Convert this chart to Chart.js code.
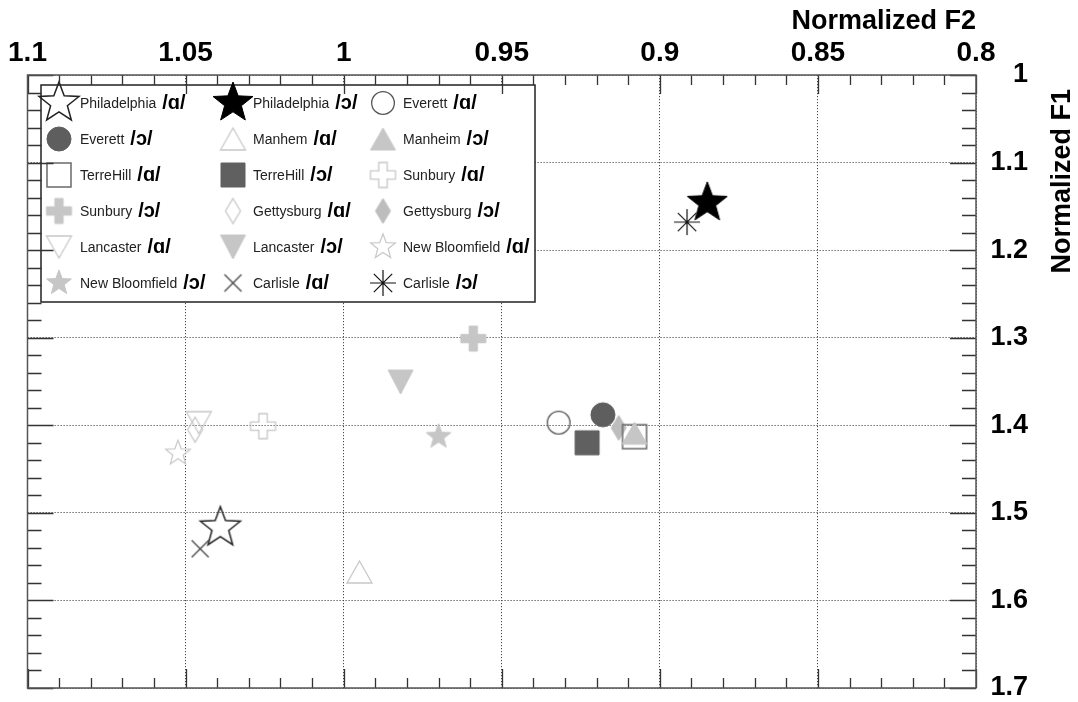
<!doctype html>
<html lang="en">
  <head>
    <meta charset="utf-8">
    <title>Normalized F1 vs Normalized F2</title>
    <style>
      body { margin: 0; background: #fff; }
      .chartBox { width: 1078px; height: 702px; }
    </style>
  </head>
  <body>
    <div class="chartBox">
      <canvas id="myChart" width="1078" height="702"></canvas>
    </div>
    <script src="https://cdn.jsdelivr.net/npm/chart.js"></script>
    <script>
      // data
      const speakers = ['Philadelphia', 'Philadelphia', 'Everett', 'Everett', 'Manhem', 'Manheim',
        'TerreHill', 'TerreHill', 'Sunbury', 'Sunbury', 'Gettysburg', 'Gettysburg',
        'Lancaster', 'Lancaster', 'New Bloomfield', 'New Bloomfield', 'Carlisle', 'Carlisle'];
      const vowels = ['/ɑ/', '/ɔ/', '/ɑ/', '/ɔ/', '/ɑ/', '/ɔ/', '/ɑ/', '/ɔ/', '/ɑ/', '/ɔ/',
        '/ɑ/', '/ɔ/', '/ɑ/', '/ɔ/', '/ɑ/', '/ɔ/', '/ɑ/', '/ɔ/'];
      const f2Values = [1.039, 0.885, 0.932, 0.918, 0.995, 0.908, 0.908, 0.923, 1.0255,
        0.959, 1.047, 0.913, 1.0458, 0.982, 1.0524, 0.970, 1.0454, 0.8914];
      const f1Values = [1.517, 1.146, 1.397, 1.388, 1.5675, 1.409, 1.413, 1.420, 1.401,
        1.301, 1.405, 1.403, 1.397, 1.3506, 1.432, 1.413, 1.541, 1.168];

      const xTicks = [1.1, 1.05, 1, 0.95, 0.9, 0.85, 0.8];
      const xTickLabels = ['1.1', '1.05', '1', '0.95', '0.9', '0.85', '0.8'];
      const yTicks = [1, 1.1, 1.2, 1.3, 1.4, 1.5, 1.6, 1.7];
      const yTickLabels = ['1', '1.1', '1.2', '1.3', '1.4', '1.5', '1.6', '1.7'];
      const xTitle = 'Normalized F2';
      const yTitle = 'Normalized F1';

      const FONT = '"Liberation Sans", Arial, "DejaVu Sans", sans-serif';

      // marker looks: shape, width, height, fill, stroke, line width
      const markerSpecs = [
        ['star', 42, 42, null, '#222', 1.5],
        ['star', 42, 42, '#000', '#000', 1],
        ['circle', 24, 24, null, '#555', 1.3],
        ['circle', 24, 24, '#5e5e5e', '#5e5e5e', 1],
        ['triangle', 25, 22, null, '#c8c8c8', 1.3],
        ['triangle', 25, 22, '#c6c6c6', '#c6c6c6', 1],
        ['square', 24, 24, null, '#6a6a6a', 1.5],
        ['square', 24, 24, '#606060', '#606060', 1],
        ['plus', 25, 25, null, '#c8c8c8', 1.3],
        ['plus', 25, 25, '#c6c6c6', '#c6c6c6', 1],
        ['diamond', 15, 25, null, '#c4c4c4', 1.2],
        ['diamond', 15, 25, '#bdbdbd', '#bdbdbd', 1],
        ['triangleDown', 25, 22, null, '#c8c8c8', 1.3],
        ['triangleDown', 25, 24, '#c6c6c6', '#c6c6c6', 1],
        ['star', 26, 26, null, '#c8c8c8', 1.2],
        ['star', 26, 26, '#c6c6c6', '#c6c6c6', 1],
        ['x', 17, 17, null, '#444', 1.3],
        ['asterisk', 26, 26, null, '#111', 1.2]
      ];

      function makeMarker(spec) {
        const [shape, w, h, fill, stroke, lw] = spec;
        const pad = 3;
        const c = document.createElement('canvas');
        c.width = Math.ceil(w + 2 * pad);
        c.height = Math.ceil(h + 2 * pad);
        const g = c.getContext('2d');
        g.translate(c.width / 2, c.height / 2);
        g.lineWidth = lw;
        g.strokeStyle = stroke;
        g.fillStyle = fill || 'transparent';
        g.beginPath();
        const hw = w / 2, hh = h / 2;
        if (shape === 'star') {
          const R = hw, r = R * 0.42;
          for (let k = 0; k < 10; k++) {
            const a = -Math.PI / 2 + k * Math.PI / 5;
            const rr = k % 2 ? r : R;
            const px = Math.cos(a) * rr, py = Math.sin(a) * rr;
            k ? g.lineTo(px, py) : g.moveTo(px, py);
          }
          g.closePath();
        } else if (shape === 'circle') {
          g.arc(0, 0, hw - (fill ? 0 : lw / 2), 0, Math.PI * 2);
        } else if (shape === 'triangle') {
          g.moveTo(0, -hh); g.lineTo(hw, hh); g.lineTo(-hw, hh); g.closePath();
        } else if (shape === 'triangleDown') {
          g.moveTo(0, hh); g.lineTo(hw, -hh); g.lineTo(-hw, -hh); g.closePath();
        } else if (shape === 'square') {
          g.rect(-hw, -hh, w, h);
        } else if (shape === 'plus') {
          const t = w / 6;
          const pts = [[-t, -hh], [t, -hh], [t, -t], [hw, -t], [hw, t], [t, t], [t, hh],
            [-t, hh], [-t, t], [-hw, t], [-hw, -t], [-t, -t]];
          pts.forEach((p, k) => k ? g.lineTo(p[0], p[1]) : g.moveTo(p[0], p[1]));
          g.closePath();
        } else if (shape === 'diamond') {
          g.moveTo(0, -hh); g.lineTo(hw, 0); g.lineTo(0, hh); g.lineTo(-hw, 0); g.closePath();
        } else if (shape === 'x') {
          g.moveTo(-hw, -hh); g.lineTo(hw, hh); g.moveTo(hw, -hh); g.lineTo(-hw, hh);
        } else if (shape === 'asterisk') {
          const d = hw * Math.SQRT1_2;
          g.moveTo(-hw, 0); g.lineTo(hw, 0); g.moveTo(0, -hh); g.lineTo(0, hh);
          g.moveTo(-d, -d); g.lineTo(d, d); g.moveTo(d, -d); g.lineTo(-d, d);
        }
        if (fill) g.fill();
        g.stroke();
        return c;
      }

      const markers = markerSpecs.map(makeMarker);

      function tickLabel(values, labels, v) {
        const i = values.findIndex(t => Math.abs(t - v) < 1e-6);
        return i < 0 ? '' : labels[i];
      }

      // legend box, frame, inner ticks, axis titles
      const framePlugin = {
        id: 'rootFrame',
        beforeDatasetsDraw(chart) {
          const ctx = chart.ctx;
          ctx.save();
          ctx.fillStyle = '#fff';
          ctx.fillRect(41, 85, 494, 217);
          ctx.strokeStyle = '#222';
          ctx.lineWidth = 1.5;
          ctx.strokeRect(41, 85, 494, 217);
          const markX = [59, 233, 383];
          const textX = [80, 253, 403];
          speakers.forEach((name, i) => {
            const col = i % 3, row = Math.floor(i / 3);
            const yy = 103 + row * 36;
            const m = markers[i];
            ctx.drawImage(m, markX[col] - m.width / 2, yy - m.height / 2);
            ctx.fillStyle = '#222';
            ctx.textBaseline = 'middle';
            ctx.textAlign = 'left';
            ctx.font = '14px ' + FONT;
            ctx.fillText(name, textX[col], yy + 1);
            const w = ctx.measureText(name).width;
            ctx.fillStyle = '#000';
            ctx.font = 'bold 20px ' + FONT;
            ctx.fillText(vowels[i], textX[col] + w + 6, yy);
          });
          ctx.restore();
        },
        afterDraw(chart) {
          const {ctx, chartArea: a, scales: {x, y}} = chart;
          ctx.save();
          ctx.strokeStyle = '#333';
          ctx.lineWidth = 1.3;
          ctx.beginPath();
          for (let k = 0; k <= 30; k++) {
            const px = Math.round(x.getPixelForValue(0.8 + k * 0.01)) + 0.5;
            const len = k % 5 === 0 ? 19 : 10;
            ctx.moveTo(px, a.top); ctx.lineTo(px, a.top + len);
            ctx.moveTo(px, a.bottom); ctx.lineTo(px, a.bottom - len);
          }
          for (let k = 0; k <= 35; k++) {
            const py = Math.round(y.getPixelForValue(1 + k * 0.02)) + 0.5;
            const len = k % 5 === 0 ? 26 : 14;
            ctx.moveTo(a.left, py); ctx.lineTo(a.left + len, py);
            ctx.moveTo(a.right, py); ctx.lineTo(a.right - len, py);
          }
          ctx.stroke();
          ctx.strokeStyle = '#555';
          ctx.lineWidth = 1.5;
          ctx.strokeRect(a.left, a.top, a.right - a.left, a.bottom - a.top);

          ctx.fillStyle = '#000';
          ctx.font = 'bold 27px ' + FONT;
          ctx.textBaseline = 'middle';
          ctx.textAlign = 'right';
          ctx.fillText(xTitle, a.right, 22);
          // rotated y title, reading bottom to top, ending at the top
          ctx.translate(1063, 89);
          ctx.rotate(-Math.PI / 2);
          ctx.fillText(yTitle, 0, 0);
          ctx.restore();
        }
      };

      const data = {
        datasets: speakers.map((name, i) => ({
          label: name + ' ' + vowels[i],
          data: [{x: f2Values[i], y: f1Values[i]}],
          pointStyle: markers[i],
          pointRadius: 10,
          showLine: false
        }))
      };

      const config = {
        type: 'scatter',
        data,
        options: {
          responsive: false,
          animation: false,
          events: [],
          layout: { padding: { left: 27.5, top: 0, right: 50, bottom: 14 } },
          plugins: {
            legend: { display: false },
            tooltip: { enabled: false }
          },
          scales: {
            x: {
              type: 'linear',
              position: 'top',
              reverse: true,
              min: 0.8,
              max: 1.1,
              afterBuildTicks: s => { s.ticks = xTicks.map(v => ({ value: v })); },
              afterFit: s => { s.height = 75; s.paddingLeft = 0; s.paddingRight = 0; },
              ticks: {
                autoSkip: false,
                maxRotation: 0,
                padding: 5,
                color: '#000',
                font: { family: FONT, size: 28, weight: 'bold' },
                callback: v => tickLabel(xTicks, xTickLabels, v)
              },
              grid: { color: '#4a4a4a', lineWidth: 1, drawTicks: false },
              border: { display: false, dash: [1.2, 1.8] }
            },
            y: {
              type: 'linear',
              position: 'right',
              reverse: true,
              min: 1,
              max: 1.7,
              afterBuildTicks: s => { s.ticks = yTicks.map(v => ({ value: v })); },
              afterFit: s => { s.width = 52; s.paddingTop = 0; s.paddingBottom = 0; },
              ticks: {
                autoSkip: false,
                crossAlign: 'far',
                color: '#000',
                font: { family: FONT, size: 27, weight: 'bold' },
                callback: v => tickLabel(yTicks, yTickLabels, v)
              },
              grid: { color: '#4a4a4a', lineWidth: 1, drawTicks: false },
              border: { display: false, dash: [1.2, 1.8] }
            }
          }
        },
        plugins: [framePlugin]
      };

      const myChart = new Chart(document.getElementById('myChart'), config);
    </script>
  </body>
</html>
